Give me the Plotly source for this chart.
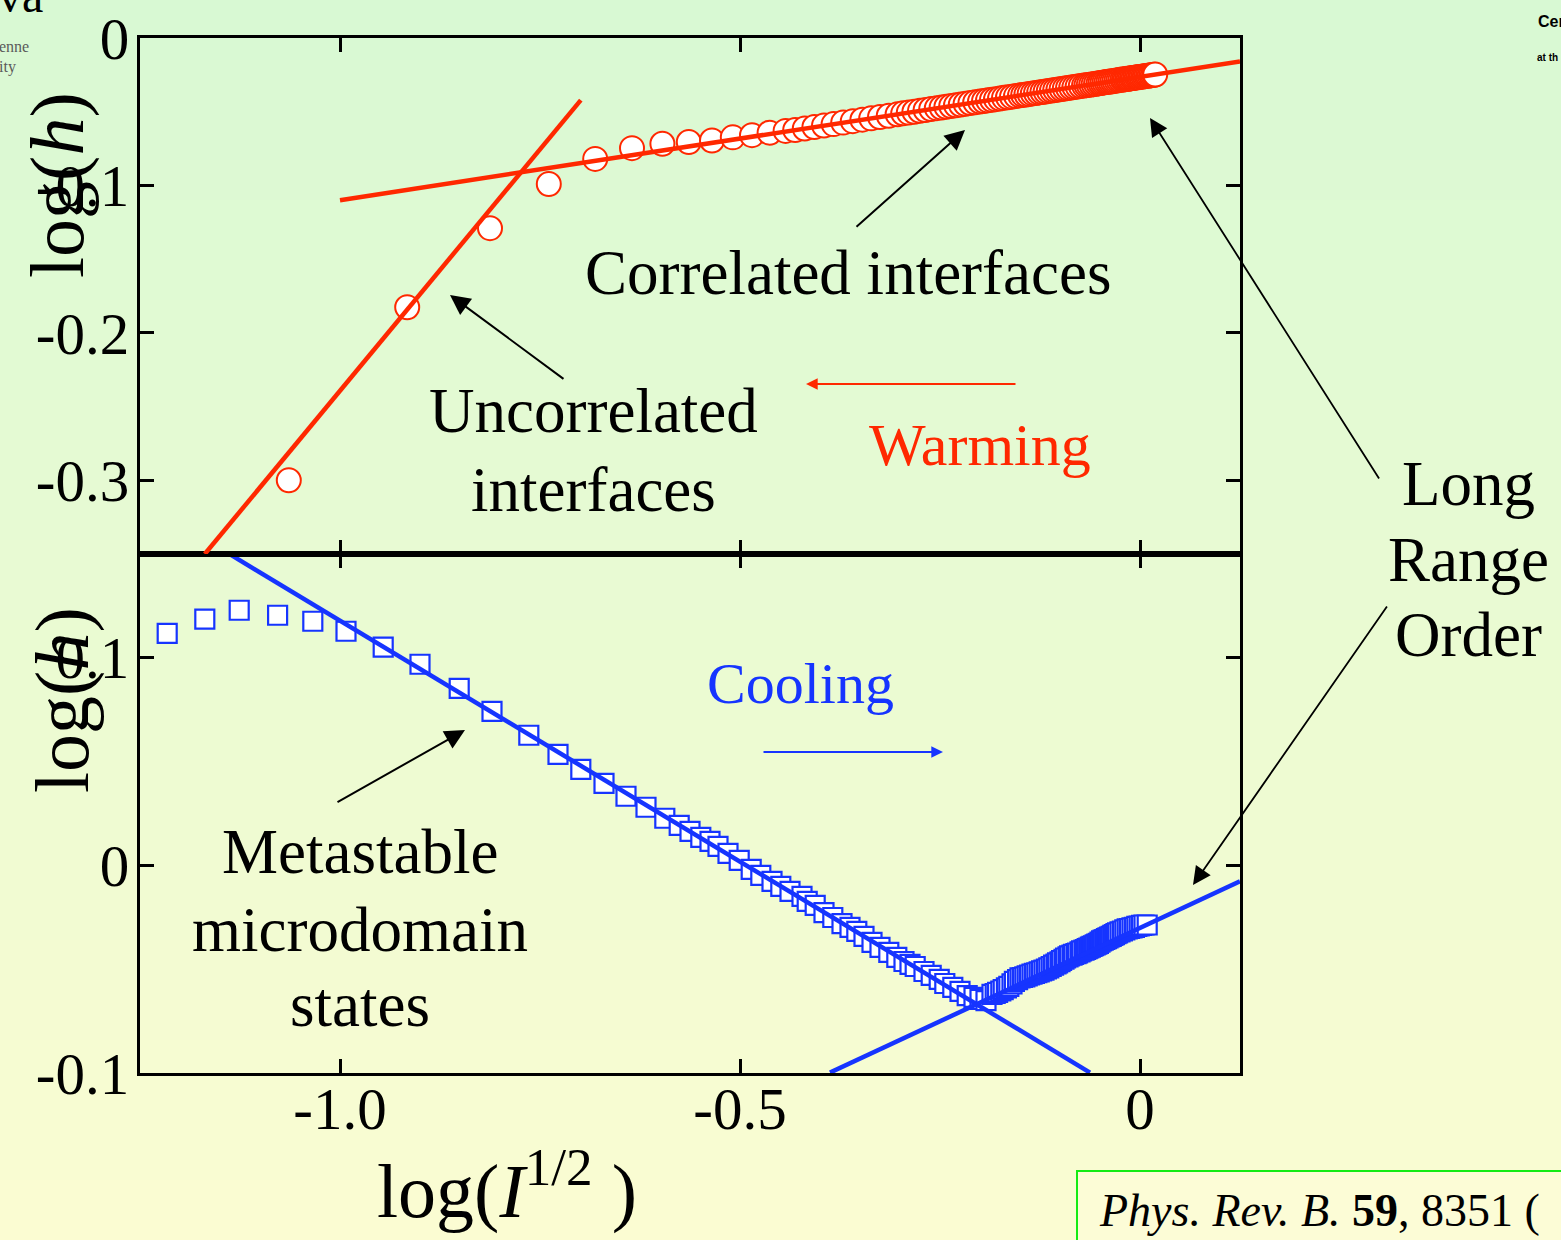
import plotly.graph_objects as go

W, H = 1561, 1240

# ---------------- data ----------------
# Warming (red circles) : log(I^1/2), log(h)
warm_x = [-1.064, -0.916, -0.8125, -0.739, -0.681, -0.635, -0.597, -0.564, -0.535, -0.509,
          -0.485, -0.463, -0.443, -0.431, -0.419, -0.407, -0.395, -0.383, -0.371, -0.359,
          -0.347, -0.336, -0.325, -0.314, -0.303, -0.296, -0.289, -0.282, -0.275, -0.268,
          -0.261, -0.254, -0.248, -0.242, -0.236, -0.230, -0.224, -0.218, -0.212, -0.206,
          -0.200, -0.195, -0.190, -0.185, -0.180, -0.175, -0.170, -0.165, -0.160, -0.155,
          -0.150, -0.146, -0.142, -0.138, -0.134, -0.130, -0.126, -0.122, -0.118, -0.114,
          -0.110, -0.106, -0.102, -0.098, -0.094, -0.090, -0.086, -0.082, -0.078, -0.074,
          -0.070, -0.067, -0.064, -0.061, -0.058, -0.055, -0.052, -0.0495, -0.047, -0.0445,
          -0.042, -0.0395, -0.037, -0.0345, -0.032, -0.0295, -0.027, -0.0245, -0.022, -0.020,
          -0.018, -0.016, -0.014, -0.012, -0.010, -0.008, -0.006, -0.004, -0.002, 0.000,
          0.002, 0.004, 0.006, 0.008, 0.010, 0.012, 0.014, 0.016, 0.018, 0.019]
warm_y = [-0.300, -0.1826, -0.129, -0.099, -0.082, -0.0747, -0.0717, -0.0705, -0.0695, -0.0674,
          -0.0659, -0.0643, -0.0630, -0.0624, -0.0614, -0.0604, -0.0594, -0.0584, -0.0574, -0.0564,
          -0.0554, -0.0545, -0.0536, -0.0527, -0.0517, -0.0511, -0.0506, -0.0500, -0.0494, -0.0488,
          -0.0482, -0.0476, -0.0471, -0.0466, -0.0461, -0.0456, -0.0451, -0.0446, -0.0441, -0.0436,
          -0.0431, -0.0427, -0.0423, -0.0419, -0.0415, -0.0410, -0.0406, -0.0402, -0.0398, -0.0394,
          -0.0389, -0.0386, -0.0383, -0.0379, -0.0376, -0.0373, -0.0369, -0.0366, -0.0363, -0.0359,
          -0.0356, -0.0353, -0.0349, -0.0346, -0.0343, -0.0339, -0.0336, -0.0333, -0.0329, -0.0326,
          -0.0323, -0.0320, -0.0318, -0.0315, -0.0313, -0.0310, -0.0308, -0.0305, -0.0303, -0.0301,
          -0.0299, -0.0297, -0.0295, -0.0293, -0.0291, -0.0289, -0.0287, -0.0284, -0.0282, -0.0281,
          -0.0279, -0.0277, -0.0276, -0.0274, -0.0272, -0.0271, -0.0269, -0.0267, -0.0266, -0.0264,
          -0.0262, -0.0261, -0.0259, -0.0257, -0.0256, -0.0254, -0.0252, -0.0251, -0.0249, -0.0248]

# Cooling (blue squares)
cool_x = [-1.216, -1.169, -1.126, -1.078, -1.034, -0.9925, -0.946, -0.900, -0.851, -0.810,
          -0.764, -0.7275, -0.699, -0.670, -0.6425, -0.6175, -0.594, -0.576, -0.5625, -0.549,
          -0.5375, -0.5275, -0.515, -0.501, -0.486, -0.474, -0.460, -0.449, -0.4375, -0.4225,
          -0.416, -0.406, -0.395, -0.384, -0.3725, -0.3625, -0.354, -0.345, -0.335, -0.325,
          -0.314, -0.304, -0.295, -0.2875, -0.281, -0.270, -0.261, -0.251, -0.244, -0.234,
          -0.225, -0.216, -0.2075, -0.200, -0.1925,
          -0.185, -0.181, -0.178, -0.174, -0.171, -0.167, -0.164, -0.160, -0.157, -0.153,
          -0.150, -0.147, -0.144, -0.141, -0.138, -0.135, -0.132, -0.129, -0.126, -0.123,
          -0.120, -0.117, -0.114, -0.111, -0.108, -0.105, -0.103, -0.100, -0.098, -0.095,
          -0.093, -0.090, -0.088, -0.085, -0.083, -0.080, -0.078, -0.075, -0.073, -0.070,
          -0.068, -0.066, -0.064, -0.062, -0.060, -0.058, -0.056, -0.054, -0.052, -0.050,
          -0.048, -0.046, -0.044, -0.042, -0.040, -0.038, -0.036, -0.034, -0.032, -0.030,
          -0.028, -0.025, -0.022, -0.019, -0.016, -0.013, -0.010, -0.007, -0.004, -0.001,
          0.002, 0.005, 0.009]
cool_y = [0.1118, 0.1186, 0.1229, 0.1205, 0.1176, 0.1128, 0.1051, 0.0969, 0.0853, 0.0742,
          0.0627, 0.0535, 0.0463, 0.0395, 0.0333, 0.0280, 0.0227, 0.0193, 0.0164, 0.0135,
          0.0116, 0.0092, 0.0058, 0.0024, -0.0019, -0.0048, -0.0077, -0.0101, -0.0125, -0.0149,
          -0.0173, -0.0193, -0.0227, -0.0251, -0.0280, -0.0299, -0.0318, -0.0342, -0.0371, -0.0395,
          -0.0419, -0.0443, -0.0463, -0.0477, -0.0487, -0.0511, -0.0530, -0.0549, -0.0569, -0.0588,
          -0.0607, -0.0627, -0.0636, -0.0646, -0.0651,
          -0.0621, -0.0617, -0.0612, -0.0605, -0.0598, -0.0590, -0.0583, -0.0571, -0.0559, -0.0550,
          -0.0542, -0.0540, -0.0537, -0.0532, -0.0528, -0.0524, -0.0520, -0.0517, -0.0513, -0.0508,
          -0.0504, -0.0499, -0.0494, -0.0487, -0.0480, -0.0475, -0.0470, -0.0464, -0.0458, -0.0452,
          -0.0446, -0.0441, -0.0436, -0.0432, -0.0429, -0.0425, -0.0422, -0.0417, -0.0412, -0.0408,
          -0.0405, -0.0401, -0.0398, -0.0394, -0.0390, -0.0387, -0.0383, -0.0379, -0.0376, -0.0370,
          -0.0364, -0.0360, -0.0357, -0.0353, -0.0349, -0.0345, -0.0342, -0.0337, -0.0333, -0.0329,
          -0.0325, -0.0320, -0.0316, -0.0311, -0.0306, -0.0304, -0.0301, -0.0299, -0.0294, -0.0292,
          -0.0289, -0.0287, -0.0287]

# Fit lines (end points)
warm_fit_uncorr_x = [-1.169, -0.699]
warm_fit_uncorr_y = [-0.350, -0.0421]
warm_fit_corr_x = [-1.0, 0.125]
warm_fit_corr_y = [-0.110, -0.016]
cool_fit_meta_x = [-1.14, -0.0625]
cool_fit_meta_y = [0.1504, -0.0998]
cool_fit_lro_x = [-0.3875, 0.125]
cool_fit_lro_y = [-0.0998, -0.0077]

x_tickvals = [-1.0, -0.5, 0.0]
x_ticktext = ["-1.0", "-0.5", "0"]
top_tickvals = [0.0, -0.1, -0.2, -0.3]
top_ticktext = ["0", "-0.1", "-0.2", "-0.3"]
bot_tickvals = [0.1, 0.0, -0.1]
bot_ticktext = ["0.1", "0", "-0.1"]

RED = "rgb(255,40,0)"
BLUE = "rgb(22,52,255)"
SERIF = "Liberation Serif, Times New Roman, serif"


def px(x):
    return x / W


def py(y):
    return 1 - y / H


fig = go.Figure()

# markers first, lines on top
fig.add_trace(go.Scatter(x=warm_x, y=warm_y, xaxis="x2", yaxis="y2", mode="markers",
                         marker=dict(symbol="circle", size=24, color="white",
                                     line=dict(color=RED, width=2)),
                         hoverinfo="skip", showlegend=False))
fig.add_trace(go.Scatter(x=cool_x, y=cool_y, xaxis="x", yaxis="y", mode="markers",
                         marker=dict(symbol="square", size=19, color="white",
                                     line=dict(color=BLUE, width=2.2)),
                         hoverinfo="skip", showlegend=False))
for xs, ys, ax_, ay_, c in [
    (warm_fit_uncorr_x, warm_fit_uncorr_y, "x2", "y2", RED),
    (warm_fit_corr_x, warm_fit_corr_y, "x2", "y2", RED),
    (cool_fit_meta_x, cool_fit_meta_y, "x", "y", BLUE),
    (cool_fit_lro_x, cool_fit_lro_y, "x", "y", BLUE),
]:
    fig.add_trace(go.Scatter(x=xs, y=ys, xaxis=ax_, yaxis=ay_, mode="lines",
                             line=dict(color=c, width=4.5), hoverinfo="skip", showlegend=False))

# ---------------- background gradient ----------------
shapes = []
top_c = (216, 249, 211)
bot_c = (251, 252, 210)
nb = 62
for i in range(nb):
    t = (i + 0.5) / nb
    c = tuple(int(round(top_c[k] + (bot_c[k] - top_c[k]) * t)) for k in range(3))
    shapes.append(dict(type="rect", xref="paper", yref="paper", x0=0, x1=1,
                       y0=1 - (i + 1) / nb - 0.001, y1=1 - i / nb,
                       fillcolor="rgb(%d,%d,%d)" % c, line=dict(width=0), layer="below"))
# citation box
shapes.append(dict(type="rect", xref="paper", yref="paper", x0=px(1077), x1=1.05,
                   y0=-0.05, y1=py(1171), fillcolor="rgb(252,252,214)",
                   line=dict(color="rgb(20,235,20)", width=2), layer="below"))

dom_x = [px(140), px(1240)]
top_dom = [py(554), py(38)]
bot_dom = [py(1073), py(554)]

axis_common = dict(showline=True, linecolor="black", linewidth=3, mirror="ticks",
                   ticks="inside", ticklen=14, tickwidth=3, tickcolor="black",
                   showgrid=False, zeroline=False, automargin=False,
                   tickfont=dict(family=SERIF, size=59, color="black"))

fig.update_layout(
    template="none",
    width=W, height=H,
    margin=dict(l=0, r=0, t=0, b=0, pad=0),
    paper_bgcolor="rgb(235,251,211)",
    plot_bgcolor="rgba(0,0,0,0)",
    showlegend=False,
    shapes=shapes,
    xaxis=dict(domain=dom_x, anchor="y", range=[-1.25, 0.125],
               tickvals=x_tickvals, ticktext=x_ticktext, ticklabelstandoff=-18, **axis_common),
    xaxis2=dict(domain=dom_x, anchor="y2", range=[-1.25, 0.125], matches="x",
                tickvals=x_tickvals, showticklabels=False, **axis_common),
    yaxis=dict(domain=bot_dom, anchor="x", range=[-0.1, 0.15],
               tickvals=bot_tickvals, ticktext=bot_ticktext, ticklabelstandoff=-4, **axis_common),
    yaxis2=dict(domain=top_dom, anchor="x2", range=[-0.35, 0.0],
                tickvals=top_tickvals, ticktext=top_ticktext, ticklabelstandoff=-4, **axis_common),
)

ann = []


def text(x, y, s, size=63, color="black", family=SERIF, **kw):
    d = dict(x=px(x), y=py(y), xref="paper", yref="paper", text=s, showarrow=False,
             xanchor="center", yanchor="middle",
             font=dict(family=family, size=size, color=color))
    d.update(kw)
    ann.append(d)


def arrow(tipx, tipy, tailx, taily, color="black", width=2, size=2.0):
    ann.append(dict(x=px(tipx), y=py(tipy), xref="paper", yref="paper", text="",
                    showarrow=True, ax=tailx - tipx, ay=taily - tipy,
                    arrowhead=2, arrowsize=size, arrowwidth=width, arrowcolor=color,
                    standoff=0, startstandoff=0))


# axis titles
text(507, 1186, "log(<i>I</i><sup>1/2</sup> )", size=76)
text(58, 185, "log(<i>h</i>)", size=76, textangle=-90)
text(62, 700, "log(<i>h</i>)", size=76, textangle=-90)

# labels
text(848, 273, "Correlated interfaces")
text(593, 411, "Uncorrelated")
text(593, 490, "interfaces")
text(980, 445, "Warming", size=60, color=RED)
text(1468, 484, "Long")
text(1468, 560, "Range")
text(1468, 635, "Order")
text(800, 683, "Cooling", size=58, color=BLUE)
text(360, 852, "Metastable")
text(360, 930, "microdomain")
text(360, 1005, "states")

# arrows
arrow(965, 130, 855, 228)
arrow(450, 295, 565, 380)
arrow(806, 384, 1017, 384, color=RED, width=1.8, size=1.3)
arrow(1150, 118, 1380, 480, width=1.8, size=2.0)
arrow(1193, 885, 1388, 605, width=1.8, size=2.0)
arrow(943, 752, 762, 752, color=BLUE, width=1.8, size=1.3)
arrow(465, 730, 336, 803)

# citation
text(1097, 1210, "<i>Phys. Rev. B.</i> <b>59</b>, 8351 (", size=46, xanchor="left")

# slide remnants at corners
text(-4, 24, "va", size=48, xanchor="left", yanchor="bottom")
text(-3, 46, "enne", size=16, color="rgb(90,90,90)", xanchor="left")
text(-3, 67, "ity", size=16, color="rgb(90,90,90)", xanchor="left")
text(1536, 22, "<b>Cer</b>", size=16, family="Liberation Sans, Arial, sans-serif", xanchor="left")
text(1535, 58, "<b>at th</b>", size=10, family="Liberation Sans, Arial, sans-serif", xanchor="left")

fig.update_layout(annotations=ann)

fig.write_html("out.html", config={"displayModeBar": False},
               post_script="document.body.style.margin='0';document.body.style.overflow='hidden';")
